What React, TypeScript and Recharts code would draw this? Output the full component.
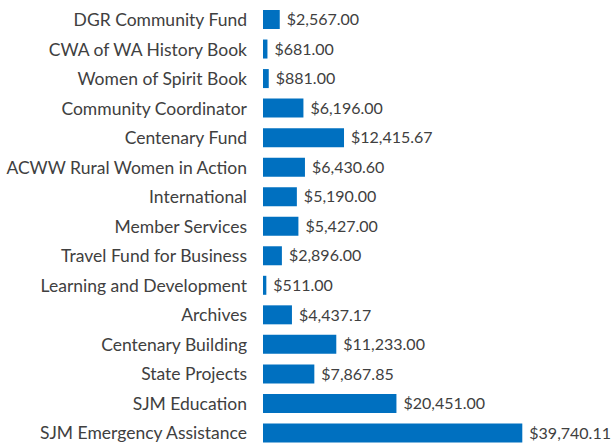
import { BarChart, Bar, XAxis, YAxis, LabelList } from 'recharts';

const categories = [
  'DGR Community Fund',
  'CWA of WA History Book',
  'Women of Spirit Book',
  'Community Coordinator',
  'Centenary Fund',
  'ACWW Rural Women in Action',
  'International',
  'Member Services',
  'Travel Fund for Business',
  'Learning and Development',
  'Archives',
  'Centenary Building',
  'State Projects',
  'SJM Education',
  'SJM Emergency Assistance',
];

const amounts = [
  2567.0, 681.0, 881.0, 6196.0, 12415.67, 6430.6, 5190.0, 5427.0, 2896.0, 511.0,
  4437.17, 11233.0, 7867.85, 20451.0, 39740.11,
];

const data = categories.map((name, i) => ({ name, value: amounts[i] }));

const fmt = (v: any) =>
  '$' + Number(v).toLocaleString('en-US', { minimumFractionDigits: 2, maximumFractionDigits: 2 });

const FONT = 'Lato, "Open Sans", sans-serif';

export default function App() {
  return (
    <div style={{ position: 'absolute', left: 0, top: 0, width: 612, height: 448, background: '#fff' }}>
      <BarChart
        width={612}
        height={448}
        data={data}
        layout="vertical"
        margin={{ top: 5, right: 88, bottom: 0, left: 0 }}
      >
        <XAxis type="number" domain={[0, 40000]} hide />
        <YAxis
          type="category"
          dataKey="name"
          width={263}
          axisLine={false}
          tickLine={false}
          tickSize={0}
          tickMargin={16}
          interval={0}
          tick={{ fill: '#404040', fontSize: 17.5, fontFamily: FONT }}
        />
        <Bar dataKey="value" fill="#0070C0" barSize={19} isAnimationActive={false}>
          <LabelList
            dataKey="value"
            position="right"
            offset={7}
            formatter={fmt}
            style={{ fill: '#404040', fontSize: 16, fontFamily: FONT }}
          />
        </Bar>
      </BarChart>
    </div>
  );
}
